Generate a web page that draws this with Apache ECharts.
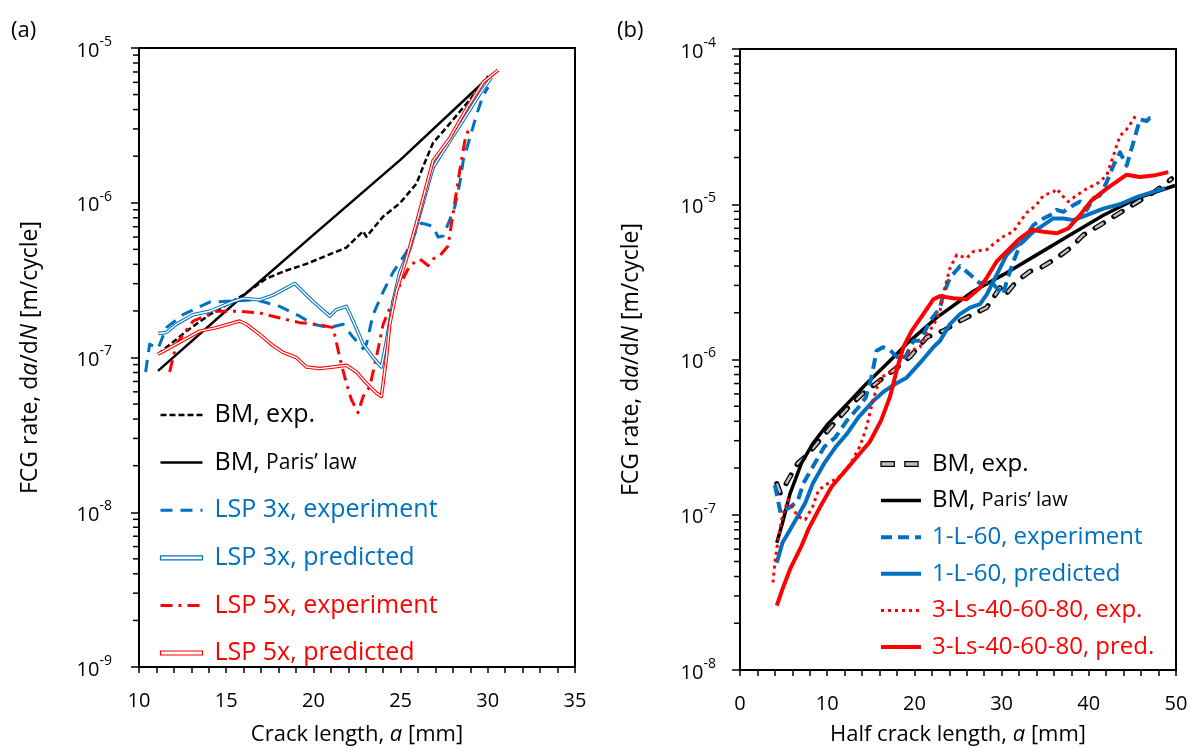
<!DOCTYPE html>
<html><head><meta charset="utf-8">
<script src="https://cdn.jsdelivr.net/npm/echarts@6/dist/echarts.min.js"></script>
<style>html,body{margin:0;padding:0;background:#fff}#c{width:1195px;height:751px}</style>
</head><body><div id="c"></div>
<script>
const FONT = '"Open Sans", sans-serif';
const BLUE = '#0070C0', RED = '#FF0000', BLACK = '#000000';

// ---------- Panel (a) ----------
const xTicksA = [10, 15, 20, 25, 30, 35];
const yExpA = [-9, -8, -7, -6, -5];
const bmExpA = [[11.09,1.05e-7],[12.72,1.48e-7],[14.05,1.89e-7],[15.97,2.53e-7],[17.30,3.24e-7],[18.45,3.65e-7],[19.60,4.03e-7],[20.75,4.55e-7],[21.89,5.13e-7],[22.85,6.55e-7],[23.04,6.03e-7],[24.0,8.15e-7],[24.95,9.9e-7],[25.91,1.33e-6],[26.39,1.82e-6],[26.86,2.44e-6],[27.44,2.89e-6],[28.39,3.87e-6],[29.16,4.93e-6],[30.02,6.6e-6]];
const parisA = [[11.09,8.2e-8],[15.5,2.25e-7],[20.0,6.2e-7],[25.0,1.9e-6],[30.0,6.4e-6]];
const lsp3ExpA = [[10.38,8.07e-8],[10.61,1.22e-7],[11.09,1.14e-7],[11.57,1.56e-7],[12.52,1.89e-7],[14.05,2.28e-7],[15.39,2.32e-7],[16.73,2.36e-7],[18.07,2.14e-7],[19.22,1.85e-7],[19.98,1.64e-7],[20.94,1.56e-7],[21.70,1.64e-7],[22.28,1.35e-7],[22.85,1.14e-7],[23.04,1.22e-7],[23.42,1.89e-7],[24.0,2.66e-7],[24.57,3.56e-7],[25.33,4.78e-7],[25.91,6.71e-7],[26.20,7.39e-7],[26.86,7.05e-7],[27.15,6.0e-7],[27.44,6.09e-7],[27.82,7.76e-7],[28.11,9.44e-7],[28.39,1.33e-6],[28.59,1.87e-6],[28.97,2.62e-6],[29.35,3.69e-6],[29.73,4.93e-6],[30.02,5.57e-6]];
const lsp3PredA = [[11.09,1.43e-7],[11.57,1.45e-7],[12.14,1.64e-7],[13.10,1.89e-7],[14.05,1.99e-7],[15.39,2.30e-7],[15.97,2.41e-7],[16.92,2.36e-7],[17.69,2.53e-7],[18.93,3.01e-7],[19.22,2.79e-7],[19.98,2.30e-7],[20.94,1.85e-7],[21.32,2.04e-7],[21.89,2.14e-7],[22.28,1.72e-7],[22.85,1.22e-7],[23.42,1.0e-7],[23.90,8.68e-8],[24.19,1.28e-7],[24.57,2.30e-7],[24.95,3.56e-7],[25.53,5.01e-7],[25.91,7.05e-7],[26.86,1.69e-6],[27.82,2.50e-6],[28.78,3.69e-6],[29.54,5.06e-6],[30.21,6.45e-6]];
const lsp5ExpA = [[11.76,8.07e-8],[12.14,1.22e-7],[13.10,1.72e-7],[14.44,1.99e-7],[15.77,1.99e-7],[16.92,1.94e-7],[18.07,1.80e-7],[19.22,1.68e-7],[20.17,1.64e-7],[21.13,1.56e-7],[21.51,1.0e-7],[21.89,6.81e-8],[22.18,5.34e-8],[22.56,4.4e-8],[22.85,5.6e-8],[23.23,6.48e-8],[23.61,1.0e-7],[24.0,1.64e-7],[24.38,2.08e-7],[24.95,2.93e-7],[25.53,3.93e-7],[26.10,4.33e-7],[26.58,3.93e-7],[26.86,4.33e-7],[27.25,4.55e-7],[27.72,5.26e-7],[28.01,8.55e-7],[28.39,1.61e-6],[28.68,2.50e-6],[28.97,3.18e-6]];
const lsp5PredA = [[11.09,1.05e-7],[12.14,1.22e-7],[13.48,1.48e-7],[14.44,1.56e-7],[15.77,1.72e-7],[16.16,1.64e-7],[16.92,1.41e-7],[17.69,1.19e-7],[18.26,1.08e-7],[19.02,1.0e-7],[19.60,8.68e-8],[20.36,8.48e-8],[21.13,8.68e-8],[21.89,8.9e-8],[22.47,8.07e-8],[23.04,6.81e-8],[23.61,5.89e-8],[23.90,5.6e-8],[24.19,1.0e-7],[24.38,1.64e-7],[24.76,2.66e-7],[25.33,4.33e-7],[25.91,7.39e-7],[26.86,1.87e-6],[27.82,2.62e-6],[28.78,4.06e-6],[29.73,6.0e-6],[30.59,7.2e-6]];

// ---------- Panel (b) ----------
const xTicksB = [0, 10, 20, 30, 40, 50];
const yExpB = [-8, -7, -6, -5, -4];
const bmExpB = [[4.22,1.59e-7],[4.65,1.37e-7],[5.74,1.76e-7],[6.61,2.14e-7],[7.7,2.42e-7],[10.09,3.49e-7],[12.26,4.8e-7],[14.0,5.98e-7],[15.96,7.27e-7],[17.58,8.5e-7],[19.5,1.04e-6],[21.41,1.39e-6],[23.32,1.53e-6],[25.23,1.77e-6],[26.76,1.96e-6],[28.29,2.16e-6],[29.82,2.9e-6],[30.4,2.6e-6],[31.73,3.19e-6],[33.26,3.7e-6],[34.4,3.88e-6],[36.31,4.5e-6],[37.84,5.21e-6],[39.37,6.34e-6],[41.28,7.34e-6],[42.81,8.3e-6],[44.34,9.38e-6],[46.25,1.09e-5],[47.78,1.23e-5],[49.5,1.46e-5]];
const parisB = [[4.22,6.6e-8],[4.87,8.85e-8],[5.74,1.37e-7],[7.04,2.14e-7],[8.35,2.87e-7],[10.09,3.85e-7],[12.26,5.16e-7],[14.43,6.92e-7],[16.82,9.37e-7],[19.11,1.26e-6],[22.55,1.86e-6],[26.76,2.75e-6],[30.2,3.52e-6],[34.02,4.72e-6],[37.84,6.34e-6],[41.67,8.5e-6],[45.49,1.09e-5],[49.89,1.32e-5]];
const l60ExpB = [[4.0,1.55e-7],[4.65,1.03e-7],[5.52,1.1e-7],[6.61,1.22e-7],[7.26,1.59e-7],[8.35,2.04e-7],[9.65,2.73e-7],[10.96,3.16e-7],[12.26,4.04e-7],[13.57,4.91e-7],[14.43,5.69e-7],[15.1,7.8e-7],[15.67,1.14e-6],[16.4,1.2e-6],[17.2,1.15e-6],[17.97,1.04e-6],[18.8,1.0e-6],[19.9,1.32e-6],[20.64,1.32e-6],[21.8,1.77e-6],[22.94,2.16e-6],[23.3,2.62e-6],[24.08,3.36e-6],[25.23,3.99e-6],[26.4,3.52e-6],[27.5,3.1e-6],[28.7,3.19e-6],[29.82,2.75e-6],[30.2,2.62e-6],[30.58,3.19e-6],[31.35,4.28e-6],[32.11,5.47e-6],[32.87,6.34e-6],[33.64,7.34e-6],[34.79,8.1e-6],[35.93,8.7e-6],[36.31,9.2e-6],[37.08,8.93e-6],[38.23,9.86e-6],[39.0,1.04e-5],[39.76,9.2e-6],[40.52,1.09e-5],[41.28,1.14e-5],[42.05,1.39e-5],[42.81,1.77e-5],[43.58,2.16e-5],[43.96,1.96e-5],[44.34,1.77e-5],[45.11,2.5e-5],[45.87,3.52e-5],[46.64,3.44e-5],[47.0,3.6e-5],[47.6,3.6e-5]];
const l60PredB = [[4.22,4.91e-8],[4.87,6.6e-8],[5.74,8.02e-8],[6.61,9.75e-8],[7.48,1.19e-7],[8.35,1.59e-7],[9.65,2.14e-7],[10.96,2.73e-7],[12.26,3.32e-7],[13.57,4.24e-7],[15.3,5.42e-7],[16.6,6.28e-7],[17.9,7.0e-7],[19.11,7.64e-7],[20.64,9.5e-7],[22.17,1.2e-6],[22.94,1.32e-6],[24.08,1.69e-6],[25.23,1.96e-6],[26.38,2.16e-6],[27.52,2.27e-6],[28.29,2.62e-6],[29.05,3.19e-6],[29.82,3.88e-6],[30.58,4.72e-6],[31.35,5.21e-6],[32.49,5.75e-6],[33.64,6.66e-6],[34.79,7.34e-6],[35.93,8.1e-6],[37.08,8.1e-6],[38.23,7.9e-6],[39.76,8.51e-6],[41.67,9.38e-6],[43.58,1.0e-5],[45.49,1.11e-5],[47.4,1.2e-5],[48.74,1.27e-5]];
const ls3ExpB = [[3.78,3.66e-8],[4.0,4.91e-8],[4.43,7.27e-8],[4.9,1.0e-7],[5.52,1.25e-7],[6.1,1.1e-7],[6.61,9.75e-8],[7.48,9.29e-8],[8.35,1.13e-7],[9.0,1.44e-7],[10.09,1.59e-7],[11.39,1.76e-7],[12.7,2.14e-7],[13.8,2.8e-7],[14.53,3.7e-7],[15.29,5.6e-7],[16.06,7.5e-7],[16.82,8.1e-7],[17.58,8.5e-7],[18.35,1.0e-6],[19.5,1.14e-6],[20.64,1.2e-6],[21.2,1.4e-6],[22.17,1.65e-6],[22.94,2.06e-6],[23.3,2.62e-6],[24.08,3.88e-6],[24.85,4.72e-6],[25.99,4.5e-6],[26.76,4.96e-6],[28.29,5.1e-6],[29.43,5.75e-6],[30.2,6.2e-6],[31.35,6.66e-6],[32.11,7.71e-6],[32.87,8.8e-6],[34.0,9.9e-6],[34.79,1.14e-5],[35.93,1.2e-5],[36.31,1.26e-5],[37.08,1.12e-5],[37.65,1.04e-5],[38.61,1.14e-5],[39.76,1.26e-5],[40.9,1.35e-5],[42.05,1.53e-5],[42.81,2.05e-5],[43.58,2.76e-5],[44.34,3.04e-5],[45.11,3.5e-5],[45.49,3.88e-5]];
const ls3PredB = [[4.22,2.6e-8],[4.87,3.32e-8],[5.74,4.46e-8],[7.04,6.28e-8],[7.91,8.22e-8],[9.22,1.13e-7],[10.52,1.52e-7],[11.83,1.85e-7],[13.57,2.42e-7],[14.87,2.94e-7],[16.17,4.04e-7],[17.2,5.75e-7],[17.97,8.51e-7],[18.73,1.2e-6],[19.69,1.53e-6],[21.02,1.96e-6],[22.17,2.44e-6],[22.94,2.56e-6],[24.46,2.48e-6],[25.99,2.44e-6],[27.52,2.9e-6],[28.29,3.36e-6],[29.43,4.28e-6],[30.96,5.21e-6],[32.11,6.04e-6],[33.45,6.85e-6],[34.79,6.66e-6],[36.31,6.5e-6],[37.65,7.0e-6],[38.99,8.51e-6],[40.33,1.06e-5],[42.05,1.26e-5],[44.34,1.55e-5],[45.87,1.5e-5],[47.4,1.53e-5],[49.12,1.61e-5]];

const minorMult = [2, 3, 4, 5, 6, 7, 8, 9];

const N_BMEXP_A = 'BM, exp.', N_PARIS_A = 'BM, Paris’ law';
const N_BMEXP_B = 'BM, exp.\u200b', N_PARIS_B = 'BM, Paris’ law\u200b';

function line(name, idx, data, color, width, type, z, cap) {
  return { name, type: 'line', xAxisIndex: idx, yAxisIndex: idx, data, symbol: 'none', showSymbol: false,
    silent: true, z: z || 2, itemStyle: { color, opacity: 0 },
    lineStyle: { color, width, type: type || 'solid', cap: cap || 'butt', join: 'round' } };
}
function minorTicks(idx, xmin, exps) {
  const data = [];
  exps.slice(0, -1).forEach(e => minorMult.forEach(m => data.push([xmin, m * Math.pow(10, e)])));
  return { type: 'custom', xAxisIndex: idx, yAxisIndex: idx, silent: true, clip: false, z: 5, data,
    renderItem: (p, api) => { const c = api.coord([api.value(0), api.value(1)]);
      return { type: 'line', shape: { x1: c[0] - 6, y1: c[1], x2: c[0], y2: c[1] }, style: { stroke: '#000', lineWidth: 1.5 } }; } };
}
function xAxis(idx, min, max, interval, name, gap) {
  return { gridIndex: idx, type: 'value', min, max, interval,
    axisLine: { show: true, onZero: false, lineStyle: { color: '#000', width: 2 } },
    axisTick: { show: true, length: 6, lineStyle: { color: '#000', width: 1.5 } },
    minorTick: { show: true, splitNumber: 5, length: 6, lineStyle: { color: '#000', width: 1.5 } },
    splitLine: { show: false }, minorSplitLine: { show: false },
    axisLabel: { margin: 24, fontSize: 20, color: '#000', fontFamily: FONT,
      formatter: v => String((idx === 0 ? xTicksA : xTicksB).find(t => t === v) ?? v) },
    name, nameLocation: 'middle', nameGap: gap,
    nameTextStyle: { fontSize: 22, color: '#000', fontFamily: FONT, rich: { i: { fontSize: 22, fontStyle: 'italic', fontFamily: FONT, color: '#000' } } } };
}
function yAxis(idx, exps, margin) {
  return { gridIndex: idx, type: 'log', logBase: 10, min: Math.pow(10, exps[0]), max: Math.pow(10, exps[exps.length - 1]),
    axisLine: { show: true, onZero: false, lineStyle: { color: '#000', width: 2 } },
    axisTick: { show: true, length: 8, lineStyle: { color: '#000', width: 1.5 } },
    splitLine: { show: false },
    axisLabel: { margin, color: '#000', fontFamily: FONT,
      formatter: (v, i) => '{n|10}{s|' + exps[i] + '}',
      rich: { n: { fontSize: 20, fontFamily: FONT, color: '#000', verticalAlign: 'bottom', lineHeight: 26 },
              s: { fontSize: 14, fontFamily: FONT, color: '#000', verticalAlign: 'top', lineHeight: 26 } } },
    name: 'FCG rate, d{i|a}/d{i|N} [m/cycle]', nameLocation: 'middle', nameGap: 97,
    nameTextStyle: { fontSize: 23, color: '#000', fontFamily: FONT, rich: { i: { fontSize: 23, fontStyle: 'italic', fontFamily: FONT, color: '#000' } } } };
}
const dblIcon = 'path://M0,0M42,14M0,5h42v4h-42z';
const hollowIcon = 'path://M0,0M42,14M0,4.5h14v5h-14z M25,4.5h14v5h-14z';
const legendFmt = n => { n = n.replace('\u200b', ''); return n.indexOf('Paris') >= 0 ? '{a|BM,} {p|Paris’ law}' : n; };
const hideSym = { opacity: 0 };

const option = {
  animation: false,
  backgroundColor: '#fff',
  title: [
    { text: '(a)', left: 6, top: 15, textStyle: { fontSize: 22, fontWeight: 'normal', fontFamily: FONT, color: '#000' } },
    { text: '(b)', left: 612, top: 15, textStyle: { fontSize: 22, fontWeight: 'normal', fontFamily: FONT, color: '#000' } }
  ],
  grid: [
    { left: 139, top: 48, width: 436, height: 631, show: true, borderColor: '#000', borderWidth: 2, backgroundColor: 'transparent' },
    { left: 740, top: 49, width: 436, height: 627, show: true, borderColor: '#000', borderWidth: 2, backgroundColor: 'transparent' }
  ],
  xAxis: [xAxis(0, 10, 35, 5, 'Crack length, {i|a} [mm]', 57), xAxis(1, 0, 50, 10, 'Half crack length, {i|a} [mm]', 54)],
  yAxis: [yAxis(0, yExpA, 27), yAxis(1, yExpB, 24)],
  legend: [
    { left: 159, top: 401, padding: 0, orient: 'vertical', itemWidth: 42, itemHeight: 14, itemGap: 19.6, selectedMode: false,
      formatter: legendFmt,
      textStyle: { fontSize: 25, lineHeight: 28, fontFamily: FONT, color: '#000', padding: [0, 0, 0, 7],
        rich: { a: { fontSize: 25, fontFamily: FONT, lineHeight: 28 }, p: { fontSize: 21, fontFamily: FONT, lineHeight: 28 } } },
      data: [
        { name: N_BMEXP_A, lineStyle: { width: 2.5 }, itemStyle: hideSym, textStyle: { color: BLACK } },
        { name: N_PARIS_A, lineStyle: { width: 2.5 }, itemStyle: hideSym, textStyle: { color: BLACK } },
        { name: 'LSP 3x, experiment', lineStyle: { width: 3 }, itemStyle: hideSym, textStyle: { color: BLUE } },
        { name: 'LSP 3x, predicted', icon: dblIcon, itemStyle: { color: '#fff', borderColor: BLUE, borderWidth: 1.2, opacity: 1 }, textStyle: { color: BLUE } },
        { name: 'LSP 5x, experiment', lineStyle: { width: 3 }, itemStyle: hideSym, textStyle: { color: RED } },
        { name: 'LSP 5x, predicted', icon: dblIcon, itemStyle: { color: '#fff', borderColor: RED, borderWidth: 1.2, opacity: 1 }, textStyle: { color: RED } }
      ] },
    { left: 879, top: 451, padding: 0, orient: 'vertical', itemWidth: 40, itemHeight: 14, itemGap: 10.6, selectedMode: false,
      formatter: legendFmt,
      textStyle: { fontSize: 24, lineHeight: 26, fontFamily: FONT, color: '#000', padding: [0, 0, 0, 6],
        rich: { a: { fontSize: 24, fontFamily: FONT, lineHeight: 26 }, p: { fontSize: 20, fontFamily: FONT, lineHeight: 26 } } },
      data: [
        { name: N_BMEXP_B, icon: hollowIcon, itemStyle: { color: '#bdbdbd', borderColor: BLACK, borderWidth: 1.2, opacity: 1 }, textStyle: { color: BLACK } },
        { name: N_PARIS_B, lineStyle: { width: 3.5 }, itemStyle: hideSym, textStyle: { color: BLACK } },
        { name: '1-L-60, experiment', lineStyle: { width: 4 }, itemStyle: hideSym, textStyle: { color: BLUE } },
        { name: '1-L-60, predicted', lineStyle: { width: 4 }, itemStyle: hideSym, textStyle: { color: BLUE } },
        { name: '3-Ls-40-60-80, exp.', lineStyle: { width: 3 }, itemStyle: hideSym, textStyle: { color: RED } },
        { name: '3-Ls-40-60-80, pred.', lineStyle: { width: 4 }, itemStyle: hideSym, textStyle: { color: RED } }
      ] }
  ],
  series: [
    // panel a
    line(N_PARIS_A, 0, parisA, BLACK, 2.5, 'solid', 3),
    line(N_BMEXP_A, 0, bmExpA, BLACK, 2.5, [6, 3], 3),
    line('LSP 3x, experiment', 0, lsp3ExpA, BLUE, 3, [12, 8], 3),
    line('LSP 5x, experiment', 0, lsp5ExpA, RED, 3, [12, 6, 3, 6], 3),
    line('LSP 3x, predicted', 0, lsp3PredA, BLUE, 3.5, 'solid', 4),
    line('_lsp3in', 0, lsp3PredA, '#ffffff', 1.4, 'solid', 4),
    line('LSP 5x, predicted', 0, lsp5PredA, RED, 3.5, 'solid', 4),
    line('_lsp5in', 0, lsp5PredA, '#ffffff', 1.4, 'solid', 4),
    minorTicks(0, 10, yExpA),
    // panel b
    line(N_BMEXP_B, 1, bmExpB, BLACK, 5, [10, 12], 2, 'round'),
    line('_bmin', 1, bmExpB, '#bdbdbd', 2.4, [10, 12], 2),
    line(N_PARIS_B, 1, parisB, BLACK, 3.5, 'solid', 3),
    line('1-L-60, experiment', 1, l60ExpB, BLUE, 4, [11, 6], 3),
    line('1-L-60, predicted', 1, l60PredB, BLUE, 4, 'solid', 3),
    line('3-Ls-40-60-80, exp.', 1, ls3ExpB, RED, 3, [3, 4], 3),
    line('3-Ls-40-60-80, pred.', 1, ls3PredB, RED, 4, 'solid', 4),
    minorTicks(1, 0, yExpB)
  ]
};
const chart = echarts.init(document.getElementById('c'), null, { renderer: 'canvas' });
chart.setOption(option);
</script></body></html>
